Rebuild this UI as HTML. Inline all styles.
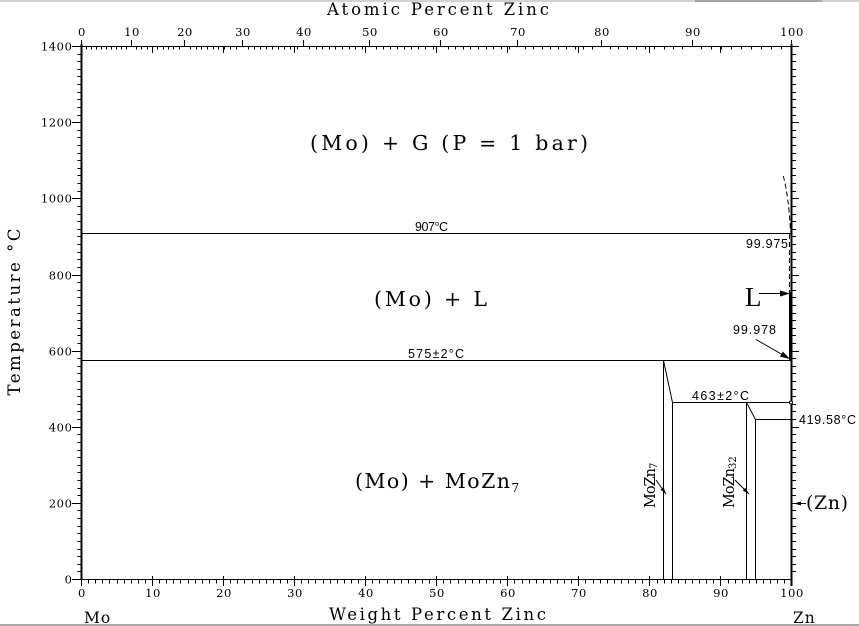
<!DOCTYPE html>
<html><head><meta charset="utf-8"><style>
html,body{margin:0;padding:0;background:#fff;}
svg{display:block;}
.m{font-family:"DejaVu Serif","Liberation Serif",serif;fill:#000;}
.t{font-family:"DejaVu Serif","Liberation Serif",serif;fill:#000;letter-spacing:0.6px;}
.s{font-family:"Liberation Sans",sans-serif;fill:#000;}
.r{font-family:"Liberation Serif",serif;fill:#000;}
</style></head><body>
<svg id="c" width="859" height="626" viewBox="0 0 859 626" xmlns="http://www.w3.org/2000/svg">
<defs>
<marker id="ah" viewBox="0 0 10 6" refX="10" refY="3" markerWidth="10" markerHeight="6" markerUnits="userSpaceOnUse" orient="auto">
<path d="M0,0 L10,3 L0,6 z" fill="#000"/>
</marker>
<marker id="ah2" viewBox="0 0 7 4" refX="7" refY="2" markerWidth="7" markerHeight="4" markerUnits="userSpaceOnUse" orient="auto">
<path d="M0,0 L7,2 L0,4 z" fill="#000"/>
</marker>
</defs>
<rect x="0" y="0" width="859" height="626" fill="#fff"/>
<rect x="0" y="0" width="859" height="2" fill="#d2d2d2"/>
<rect x="695" y="0" width="127" height="2" fill="#a4a4a4"/>
<rect x="0" y="624" width="859" height="2" fill="#a8a8a8"/>

<g stroke="#000" fill="none" shape-rendering="crispEdges">
<line x1="81.5" y1="46.5" x2="791.5" y2="46.5" stroke-width="1"/>
<line x1="81.5" y1="579.5" x2="791.5" y2="579.5" stroke-width="1"/>
<line x1="81.5" y1="44" x2="81.5" y2="580" stroke-width="2"/>
<line x1="791.5" y1="44" x2="791.5" y2="586" stroke-width="2"/>
<path d="M72 579.5H81.5M72 503.5H81.5M72 427.5H81.5M72 351.5H81.5M72 275.5H81.5M72 198.5H81.5M72 122.5H81.5M72 46.5H81.5"/>
<path d="M791.5 503.5H799M791.5 427.5H799M791.5 351.5H799M791.5 275.5H799M791.5 198.5H799M791.5 122.5H799M791.5 46.5H799"/>
<path d="M81.5 576V586M152.5 576V586M223.5 576V586M294.5 576V586M365.5 576V586M436.5 576V586M507.5 576V586M578.5 576V586M649.5 576V586M720.5 576V586"/>
<path d="M152.5 46.5V53M223.5 46.5V53M294.5 46.5V53M365.5 46.5V53M436.5 46.5V53M507.5 46.5V53M578.5 46.5V53M649.5 46.5V53M720.5 46.5V53"/>
<path d="M81.5 40V46.5M131.5 40V46.5M184.5 40V46.5M242.5 40V46.5M303.5 40V46.5M369.5 40V46.5M440.5 40V46.5M517.5 40V46.5M601.5 40V46.5M692.5 40V46.5M791.5 40V46.5"/>
<g id="minor"></g>

<line x1="81.5" y1="233.5" x2="791" y2="233.5"/>
<line x1="81.5" y1="360.5" x2="791" y2="360.5"/>
<line x1="672.5" y1="402.5" x2="791" y2="402.5"/>
<line x1="755.5" y1="419.5" x2="791" y2="419.5"/>
<line x1="663.5" y1="360.5" x2="663.5" y2="579"/>
<line x1="672.5" y1="402.5" x2="672.5" y2="579"/>
<line x1="746.5" y1="402.5" x2="746.5" y2="579"/>
<line x1="755.5" y1="419.5" x2="755.5" y2="579"/>
</g>
<g stroke="#000" fill="none">
<line x1="663.5" y1="360.5" x2="672.5" y2="402.5"/>
<line x1="746.5" y1="402.5" x2="755.5" y2="419.5"/>
<path d="M783.3 176 Q789 198 790.5 232" stroke-dasharray="5 3"/>
<line x1="789.5" y1="234" x2="789.5" y2="292" stroke-dasharray="5 3"/>
<line x1="790" y1="292" x2="790" y2="360" stroke-width="2"/>
<circle cx="791" cy="402.5" r="1.5" fill="#fff"/>
<line x1="759" y1="293.5" x2="790" y2="293.5" marker-end="url(#ah)"/>
<line x1="756" y1="339.5" x2="790" y2="359" marker-end="url(#ah)"/>
<line x1="806" y1="503.5" x2="794" y2="503.5" marker-end="url(#ah2)"/>
<line x1="656" y1="480" x2="666" y2="494" marker-end="url(#ah2)"/>
<line x1="735" y1="480" x2="749" y2="494" marker-end="url(#ah2)"/>
</g>

<g class="t" font-size="11.5" text-anchor="end">
<text x="72.5" y="583.5">0</text>
<text x="72.5" y="507.5">200</text>
<text x="72.5" y="431.5">400</text>
<text x="72.5" y="355.5">600</text>
<text x="72.5" y="279.5">800</text>
<text x="72.5" y="202.5">1000</text>
<text x="72.5" y="126.5">1200</text>
<text x="72.5" y="50.5">1400</text>
</g>
<g class="t" font-size="11.5" text-anchor="middle">
<text x="82" y="597">0</text>
<text x="153" y="597">10</text>
<text x="224" y="597">20</text>
<text x="295" y="597">30</text>
<text x="366" y="597">40</text>
<text x="437" y="597">50</text>
<text x="508" y="597">60</text>
<text x="579" y="597">70</text>
<text x="650" y="597">80</text>
<text x="721" y="597">90</text>
<text x="792" y="597">100</text>
<text x="82" y="36">0</text>
<text x="132" y="36">10</text>
<text x="185" y="36">20</text>
<text x="243" y="36">30</text>
<text x="304" y="36">40</text>
<text x="370" y="36">50</text>
<text x="441" y="36">60</text>
<text x="518" y="36">70</text>
<text x="602" y="36">80</text>
<text x="693" y="36">90</text>
<text x="792" y="36">100</text>
</g>

<text class="m" x="327" y="15" font-size="16.5" textLength="222" lengthAdjust="spacing">Atomic Percent Zinc</text>
<text class="m" x="329" y="620" font-size="16.5" textLength="217" lengthAdjust="spacing">Weight Percent Zinc</text>
<text class="m" transform="translate(20,312) rotate(-90)" text-anchor="middle" font-size="16.5" textLength="167" lengthAdjust="spacing">Temperature °C</text>
<text class="m" x="84" y="623" font-size="15.5" letter-spacing="1">Mo</text>
<text class="m" x="793" y="623" font-size="15.5" letter-spacing="1">Zn</text>

<text class="m" x="310" y="150" font-size="20.5" textLength="278" lengthAdjust="spacing">(Mo) + G (P = 1 bar)</text>
<text class="m" x="374" y="306" font-size="20.5" textLength="113" lengthAdjust="spacing">(Mo) + L</text>
<text class="m" x="355" y="488" font-size="20.5"><tspan textLength="155" lengthAdjust="spacing">(Mo) + MoZn</tspan><tspan font-size="12" dy="4">7</tspan></text>
<text class="r" x="745" y="306" font-size="27">L</text>
<text class="m" x="806" y="509" font-size="19" textLength="42" lengthAdjust="spacing">(Zn)</text>

<text class="m" transform="translate(655,508) rotate(-90)" font-size="14.5"><tspan textLength="40" lengthAdjust="spacing">MoZn</tspan><tspan font-size="10" dy="2">7</tspan></text>
<text class="m" transform="translate(734,508) rotate(-90)" font-size="14.5"><tspan textLength="40" lengthAdjust="spacing">MoZn</tspan><tspan font-size="10" dy="2">32</tspan></text>

<g class="s" font-size="12.5">
<text x="415" y="231" textLength="33" lengthAdjust="spacing">907°C</text>
<text x="408" y="358" textLength="56" lengthAdjust="spacing">575±2°C</text>
<text x="692" y="400" textLength="57" lengthAdjust="spacing">463±2°C</text>
<text x="746" y="248" textLength="42" lengthAdjust="spacing">99.975</text>
<text x="733" y="334" textLength="43" lengthAdjust="spacing">99.978</text>
<text x="799" y="424" textLength="57" lengthAdjust="spacing">419.58°C</text>
</g>
</svg>
<script>
(function(){
var g=document.getElementById('minor');var d='';
function r(v){return Math.round(v-0.5)+0.5;}
var i,T,x,y;
for(i=1;i<100;i++){if(i%10){x=r(81.5+7.105*i);d+='M'+x+' 579.5V583.5';}}
for(T=20;T<1400;T+=20){if(T%200){y=r(579.5-T*0.38071);d+='M77.5 '+y+'H81.5M791.5 '+y+'H796';}}
for(i=1;i<100;i++){if(i%10){var w=65.38*i/(65.38*i+95.95*(100-i));x=r(81.5+710.5*w);d+='M'+x+' 46.5V49.5';}}
var p=document.createElementNS('http://www.w3.org/2000/svg','path');
p.setAttribute('d',d);g.appendChild(p);
})();
</script>
</body></html>
